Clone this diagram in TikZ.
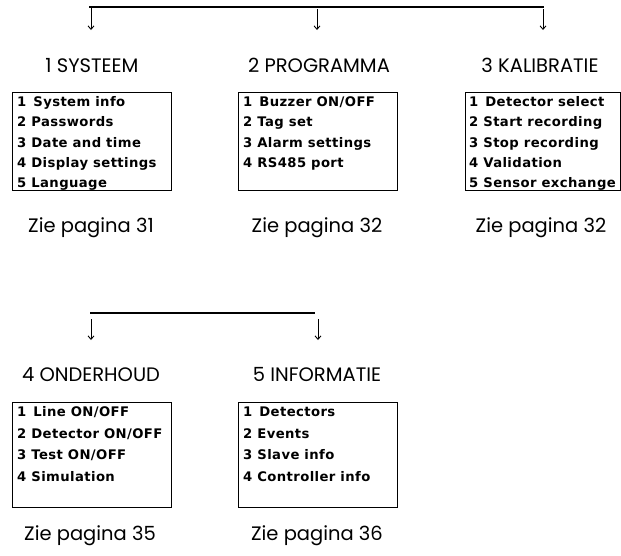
\documentclass[tikz,border=0pt]{standalone}
\usepackage{fontspec}
\usetikzlibrary{arrows.meta}
\newfontfamily\headfont{Poppins}
\newfontfamily\menufont[LetterSpace=3]{DejaVu Sans}
\begin{document}
\begin{tikzpicture}[x=1pt,y=-1pt,
  bar/.style={line width=1.6pt},
  down/.style={line width=0.9pt,-{Straight Barb[length=3.5pt,width=6pt,line width=0.9pt]}},
  menubox/.style={draw,line width=1pt,minimum width=159pt,inner sep=0pt},
  head/.style={font=\headfont\fontsize{19.5}{23}\selectfont,anchor=base,inner sep=0pt},
  item/.style={font=\menufont\bfseries\fontsize{13.2}{15}\selectfont,anchor=base west,inner sep=0pt},
  ref/.style={font=\headfont\fontsize{19.5}{23}\selectfont,anchor=base,inner sep=0pt}]
\useasboundingbox (0,0) rectangle (621,555);

% ---- upper row: bar and arrows
\coordinate (t1) at (89,7);
\coordinate (t3) at (544,7);
\coordinate (a1s) at (91,8);   \coordinate (a1e) at (91,30);
\coordinate (a2s) at (317,9);  \coordinate (a2e) at (317,30);
\coordinate (a3s) at (543,9);  \coordinate (a3e) at (543,30);
\draw[bar] (t1) -- (t3);
\draw[down] (a1s) -- (a1e);
\draw[down] (a2s) -- (a2e);
\draw[down] (a3s) -- (a3e);

% ---- upper row: headings
\node[head] (h1) at (92,72.7) {1 SYSTEEM};
\node[head] (h2) at (319,72.7) {2 PROGRAMMA};
\node[head] (h3) at (540,72.7) {3 KALIBRATIE};

% ---- upper row: menu boxes
\node[menubox,minimum height=98pt] (b1) at (91.5,141) {};
\node[menubox,minimum height=98pt] (b2) at (317.5,141) {};
\node[menubox,minimum height=98pt,minimum width=155pt] (b3) at (542.5,141) {};

\node[item] (i11) at (17,106.7) {1\hspace{2pt} System info};
\node[item] (i12) at (17,126.9) {2 Passwords};
\node[item] (i13) at (17,147.1) {3 Date and time};
\node[item] (i14) at (17,167.3) {4 Display settings};
\node[item] (i15) at (17,187.5) {5 Language};

\node[item] (i21) at (243,106.7) {1\hspace{2pt} Buzzer ON/OFF};
\node[item] (i22) at (243,126.9) {2 Tag set};
\node[item] (i23) at (243,147.1) {3 Alarm settings};
\node[item] (i24) at (243,167.3) {4 RS485 port};

\node[item] (i31) at (469,106.7) {1\hspace{2pt} Detector select};
\node[item] (i32) at (469,126.9) {2 Start recording};
\node[item] (i33) at (469,147.1) {3 Stop recording};
\node[item] (i34) at (469,167.3) {4 Validation};
\node[item] (i35) at (469,187.5) {5 Sensor exchange};

% ---- upper row: page references
\node[ref] (r1) at (91,232.5) {Zie pagina 31};
\node[ref] (r2) at (317,232.5) {Zie pagina 32};
\node[ref] (r3) at (541,232.5) {Zie pagina 32};

% ---- lower row: bar and arrows
\coordinate (u1) at (90,313);
\coordinate (u2) at (315,313);
\coordinate (c1s) at (91,319);  \coordinate (c1e) at (91,340);
\coordinate (c2s) at (318,319); \coordinate (c2e) at (318,340);
\draw[bar] (u1) -- (u2);
\draw[down] (c1s) -- (c1e);
\draw[down] (c2s) -- (c2e);

% ---- lower row: headings
\node[head] (h4) at (91,381.7) {4 ONDERHOUD};
\node[head] (h5) at (317,381.7) {5 INFORMATIE};

% ---- lower row: menu boxes
\node[menubox,minimum height=105pt] (b4) at (91.5,454.5) {};
\node[menubox,minimum height=105pt] (b5) at (317.5,454.5) {};

\node[item] (i41) at (17,416.7) {1\hspace{2pt} Line ON/OFF};
\node[item] (i42) at (17,438.2) {2 Detector ON/OFF};
\node[item] (i43) at (17,459.7) {3 Test ON/OFF};
\node[item] (i44) at (17,481.2) {4 Simulation};

\node[item] (i51) at (243,416.7) {1\hspace{2pt} Detectors};
\node[item] (i52) at (243,438.2) {2 Events};
\node[item] (i53) at (243,459.7) {3 Slave info};
\node[item] (i54) at (243,481.2) {4 Controller info};

% ---- lower row: page references
\node[ref] (r4) at (90,540) {Zie pagina 35};
\node[ref] (r5) at (317,540) {Zie pagina 36};
\end{tikzpicture}
\end{document}
